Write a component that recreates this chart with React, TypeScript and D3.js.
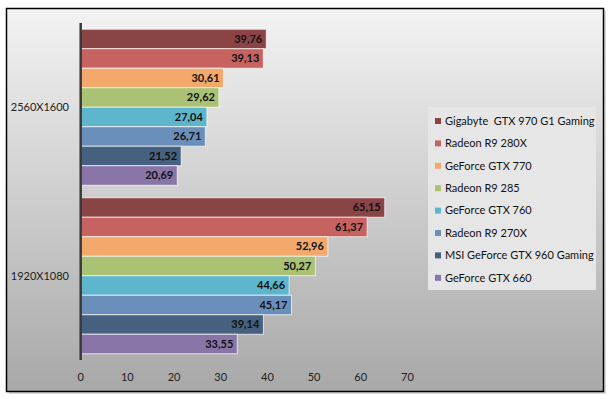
import { useEffect, useRef } from 'react';
import * as d3 from 'd3';

const resolutions = ['2560X1600', '1920X1080'];
const cards = [
  'Gigabyte  GTX 970 G1 Gaming',
  'Radeon R9 280X',
  'GeForce GTX 770',
  'Radeon R9 285',
  'GeForce GTX 760',
  'Radeon R9 270X',
  'MSI GeForce GTX 960 Gaming',
  'GeForce GTX 660',
];
const colors = ['#8b4446', '#c6625f', '#f3a86c', '#abc275', '#5db6cb', '#6b8fbb', '#45617f', '#8975a7'];
const fps2560 = [39.76, 39.13, 30.61, 29.62, 27.04, 26.71, 21.52, 20.69];
const fps1920 = [65.15, 61.37, 52.96, 50.27, 44.66, 45.17, 39.14, 33.55];
const xTicks = [0, 10, 20, 30, 40, 50, 60, 70];

const W = 610;
const H = 399;
const FONT = 'Lato, "Open Sans", sans-serif';

export default function App() {
  const ref = useRef<SVGSVGElement | null>(null);

  useEffect(() => {
    const svg = d3.select(ref.current);
    svg.selectAll('*').remove();

    const defs = svg.append('defs');
    const grad = defs.append('linearGradient')
      .attr('id', 'bg')
      .attr('x1', 0).attr('y1', 0).attr('x2', 0).attr('y2', 1);
    grad.append('stop').attr('offset', '0%').attr('stop-color', '#f3f3f3');
    grad.append('stop').attr('offset', '100%').attr('stop-color', '#a8a8a8');

    // sombra + marco
    svg.append('rect')
      .attr('x', 9).attr('y', 11).attr('width', 597).attr('height', 383)
      .attr('fill', '#d8d8d8');
    svg.append('rect')
      .attr('x', 6.5).attr('y', 8.5).attr('width', 597).attr('height', 383)
      .attr('fill', 'url(#bg)')
      .attr('stroke', '#000').attr('stroke-width', 1.5);

    const x = d3.scaleLinear().domain([0, 70]).range([80.7, 407.4]);
    const yGroup = d3.scaleBand<string>().domain(resolutions).range([23, 360]);
    const yBar = d3.scaleBand<number>()
      .domain(d3.range(cards.length))
      .range([0, yGroup.bandwidth()])
      .paddingInner(0)
      .paddingOuter(0.32);

    const series = [fps2560, fps1920];

    resolutions.forEach((res, gi) => {
      const g = svg.append('g').attr('transform', `translate(0,${yGroup(res)})`);
      const vals = series[gi];

      g.selectAll('rect.bar')
        .data(vals)
        .enter().append('rect')
        .attr('class', 'bar')
        .attr('x', x(0))
        .attr('y', (d, i) => yBar(i) as number)
        .attr('width', d => x(d) - x(0))
        .attr('height', yBar.bandwidth())
        .attr('fill', (d, i) => colors[i])
        .attr('stroke', 'rgba(255,255,255,0.7)')
        .attr('stroke-width', 1);

      g.selectAll('text.val')
        .data(vals)
        .enter().append('text')
        .attr('class', 'val')
        .attr('x', d => x(d) - 4)
        .attr('y', (d, i) => (yBar(i) as number) + yBar.bandwidth() / 2)
        .attr('dy', '0.35em')
        .attr('text-anchor', 'end')
        .attr('font-family', FONT)
        .attr('font-size', 11)
        .attr('font-weight', 'bold')
        .attr('fill', '#111')
        .text(d => d.toFixed(2).replace('.', ','));

      // Etiqueta de categoría
      svg.append('text')
        .attr('x', 69)
        .attr('y', (yGroup(res) as number) + yGroup.bandwidth() / 2)
        .attr('dy', '0.35em')
        .attr('text-anchor', 'end')
        .attr('font-family', FONT)
        .attr('font-size', 11)
        .attr('fill', '#222')
        .text(res);
    });

    // Eje vertical
    svg.append('line')
      .attr('x1', x(0)).attr('x2', x(0))
      .attr('y1', 23).attr('y2', 360)
      .attr('stroke', '#3a3a3a').attr('stroke-width', 2.5);

    // Eje horizontal (solo etiquetas)
    svg.append('g')
      .selectAll('text')
      .data(xTicks)
      .enter().append('text')
      .attr('x', d => x(d))
      .attr('y', 377)
      .attr('dy', '0.35em')
      .attr('text-anchor', 'middle')
      .attr('font-family', FONT)
      .attr('font-size', 11)
      .attr('fill', '#222')
      .text(d => d);

    // Leyenda
    const legend = svg.append('g');
    legend.append('rect')
      .attr('x', 428).attr('y', 107).attr('width', 168).attr('height', 183)
      .attr('fill', '#e6e6e6');
    const items = legend.selectAll('g')
      .data(cards)
      .enter().append('g')
      .attr('transform', (d, i) => `translate(435,${121 + i * 22.4})`);
    items.append('rect')
      .attr('x', 0).attr('y', -3).attr('width', 6).attr('height', 6)
      .attr('fill', (d, i) => colors[i]);
    items.append('text')
      .attr('x', 10)
      .attr('dy', '0.35em')
      .attr('font-family', FONT)
      .attr('font-size', 11)
      .attr('fill', '#111')
      .style('white-space', 'pre')
      .text(d => d);
  }, []);

  return (
    <svg
      ref={ref}
      width={W}
      height={H}
      style={{ position: 'absolute', left: 0, top: 0, background: '#fff' }}
    />
  );
}
